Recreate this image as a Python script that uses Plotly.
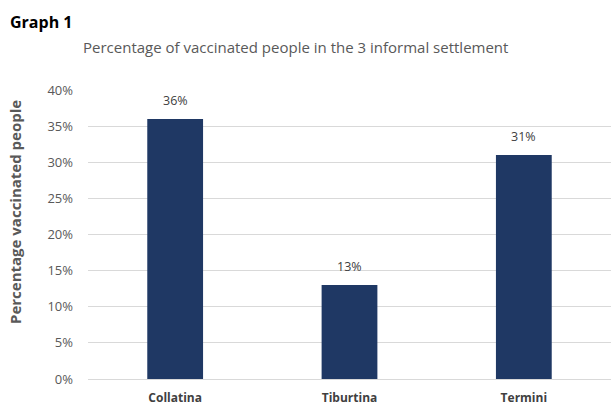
import plotly.graph_objects as go

categories = ["Collatina", "Tiburtina", "Termini"]
values = [36, 13, 31]
labels = ["36%", "13%", "31%"]
ytick_vals = [0, 5, 10, 15, 20, 25, 30, 35, 40]
ytick_text = ["0%", "5%", "10%", "15%", "20%", "25%", "30%", "35%", "40%"]

W, H = 611, 406
ML, MR, MT, MB = 88, 0, 90, 27
PW, PH = W - ML - MR, H - MT - MB

def px(x):
    return (x - ML) / PW

def py(y):
    return 1 - (y - MT) / PH

fig = go.Figure(go.Bar(
    x=categories, y=values,
    marker=dict(color="#1F3864", line=dict(width=0)),
    cliponaxis=False,
))

annotations = [
    dict(text="<b>Graph 1</b>", x=px(8), y=py(22), xref="paper", yref="paper", showarrow=False,
         xanchor="left", yanchor="middle", font=dict(size=16, color="black", family="Open Sans")),
    dict(text="Percentage of vaccinated people in the 3 informal settlement", x=px(295), y=py(47),
         xref="paper", yref="paper", showarrow=False, xanchor="center", yanchor="middle",
         font=dict(size=15, color="#595959", family="Open Sans")),
    dict(text="<b>Percentage vaccinated people</b>", x=px(15), y=py(212), xref="paper", yref="paper",
         showarrow=False, textangle=-90, xanchor="center", yanchor="middle",
         font=dict(size=15, color="#595959", family="Open Sans")),
]
for c, v, t in zip(categories, values, labels):
    annotations.append(dict(text=t, x=c, y=v, xref="x", yref="y", showarrow=False,
                            yanchor="bottom", yshift=8,
                            font=dict(size=12.5, color="#404040", family="Open Sans")))

fig.update_layout(
    width=W, height=H,
    margin=dict(l=ML, r=MR, t=MT, b=MB),
    paper_bgcolor="white", plot_bgcolor="white",
    bargap=0.68,
    showlegend=False,
    font=dict(family="Open Sans", color="#595959"),
    annotations=annotations,
)

fig.update_yaxes(
    range=[0, 40], tickvals=ytick_vals, ticktext=ytick_text,
    showgrid=True, gridcolor="#D9D9D9", gridwidth=1, zeroline=False,
    showline=False, ticks="", ticklabelstandoff=14, automargin=False,
    tickfont=dict(size=13, color="#595959"),
)
fig.update_xaxes(
    showline=True, linecolor="#D9D9D9", linewidth=1, ticks="",
    ticklabelstandoff=8, automargin=False,
    tickfont=dict(size=12, color="#404040", family="Open Sans"),
    tickprefix="<b>", ticksuffix="</b>",
)

fig.write_html("out.html")
